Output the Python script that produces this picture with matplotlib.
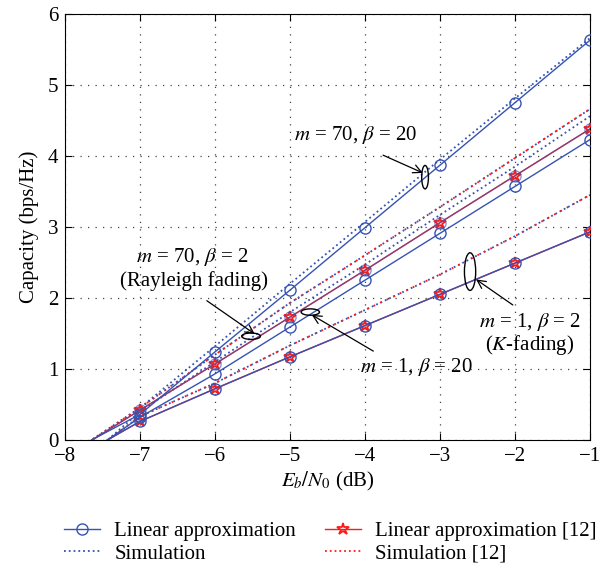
import matplotlib

matplotlib.use("Agg")
import matplotlib.pyplot as plt  # noqa: E402
from matplotlib.patches import Ellipse  # noqa: E402

plt.rcParams["font.family"] = ["Liberation Serif", "DejaVu Serif"]
plt.rcParams["mathtext.fontset"] = "stix"
plt.rcParams["font.size"] = 15

# Eb/N0 (dB); the -8 point only sets where the curves leave the bottom edge
ebn0 = [-8, -7, -6, -5, -4, -3, -2, -1]

# linear approximation (proposed)
lin_m70_b20 = [-0.20, 0.36, 1.24, 2.11, 2.99, 3.87, 4.75, 5.63]
lin_m70_b2 = [-0.24, 0.42, 1.07, 1.73, 2.39, 3.06, 3.72, 4.38]
lin_m1_b20 = [-0.42, 0.32, 0.93, 1.59, 2.25, 2.91, 3.57, 4.23]
lin_m1_b2 = [-0.34, 0.26, 0.72, 1.17, 1.61, 2.05, 2.49, 2.93]

# linear approximation of [12]
ref_m70_b2 = [-0.24, 0.42, 1.07, 1.73, 2.39, 3.06, 3.72, 4.38]
ref_m1_b2 = [-0.34, 0.26, 0.72, 1.17, 1.61, 2.05, 2.49, 2.93]

# simulation
sim_m70_b20 = [-0.25, 0.45, 1.32, 2.20, 3.07, 3.95, 4.81, 5.66]
sim_m70_b2 = [-0.25, 0.45, 1.20, 1.93, 2.60, 3.28, 3.97, 4.66]
sim_m1_b20 = [-0.53, 0.40, 1.10, 1.80, 2.47, 3.17, 3.85, 4.56]
sim_m1_b2 = [-0.44, 0.33, 0.80, 1.33, 1.83, 2.33, 2.87, 3.45]

blue = "#3553b3"
red = "#ff1a1a"

fig = plt.figure(figsize=(6.14, 5.78), dpi=100)
ax = fig.add_axes([0.106, 0.239, 0.855, 0.737])

# simulations
for vals in (sim_m70_b20, sim_m1_b20):
    ax.plot(ebn0, vals, ls=":", color=blue, lw=1.3, zorder=2)
for vals in (sim_m70_b2, sim_m1_b2):
    ax.plot(ebn0, vals, ls=":", color=blue, lw=1.3, zorder=2)
    ax.plot(ebn0, vals, ls=(1.5, (1, 3)), color=red, lw=1.3, zorder=2)

# [12] linear approximation
for vals in (ref_m70_b2, ref_m1_b2):
    ax.plot(ebn0, vals, "-", color=red, lw=1.0, marker="*", ms=9,
            mfc="none", mec=red, mew=1.3, zorder=3)

# proposed linear approximation (Rayleigh curve blends with the red one)
for vals, a in ((lin_m70_b20, 1.0), (lin_m70_b2, 0.6), (lin_m1_b20, 1.0), (lin_m1_b2, 1.0)):
    ax.plot(ebn0, vals, "-", color=blue, lw=1.0, marker="o", ms=8,
            mfc="none", mec=blue, mew=1.0, zorder=3, alpha=a)

# legend proxies
h_lin, = ax.plot([], [], "-", color=blue, lw=1.0, marker="o", ms=8, mfc="none", mec=blue)
h_sim, = ax.plot([], [], ":", color=blue, lw=1.3)
h_ref, = ax.plot([], [], "-", color=red, lw=1.0, marker="*", ms=9, mfc="none", mec=red, mew=1.3)
h_rsim, = ax.plot([], [], ":", color=red, lw=1.3)

# ellipses and labels
ell_kw = dict(fc="none", ec="black", lw=1.0, zorder=5)
arr_kw = dict(arrowstyle="->", color="black", lw=0.9, shrinkA=0, shrinkB=0)

ax.add_patch(Ellipse((-3.20, 3.70), 0.09, 0.33, **ell_kw))
ax.text(-4.13, 4.30, r"$m$ = 70, $\beta$ = 20", ha="center", va="center")
ax.annotate("", xy=(-3.23, 3.76), xytext=(-3.76, 4.01), arrowprops=arr_kw)

ax.add_patch(Ellipse((-5.52, 1.46), 0.25, 0.09, **ell_kw))
ax.text(-6.31, 2.58, r"$m$ = 70, $\beta$ = 2", ha="center", va="center")
ax.text(-6.28, 2.24, "(Rayleigh fading)", ha="center", va="center")
ax.annotate("", xy=(-5.47, 1.49), xytext=(-6.11, 1.96), arrowprops=arr_kw)

ax.add_patch(Ellipse((-4.73, 1.80), 0.245, 0.09, **ell_kw))
ax.text(-3.32, 1.02, r"$m$ = 1, $\beta$ = 20", ha="center", va="center")
ax.annotate("", xy=(-4.71, 1.76), xytext=(-3.89, 1.25), arrowprops=arr_kw)

ax.add_patch(Ellipse((-2.60, 2.37), 0.15, 0.53, **ell_kw))
ax.text(-1.8, 1.66, r"$m$ = 1, $\beta$ = 2", ha="center", va="center")
ax.text(-1.8, 1.34, r"($K$-fading)", ha="center", va="center")
ax.annotate("", xy=(-2.52, 2.26), xytext=(-2.03, 1.90), arrowprops=arr_kw)

ax.set_xlim(-8, -1)
ax.set_ylim(0, 6)
ax.set_xticks(range(-8, 0))
ax.set_yticks(range(0, 7))
ax.tick_params(direction="in", length=5, labelsize=15, top=True, right=True,
               labeltop=False, labelright=False, pad=5)
ax.grid(True, ls=(0, (1, 5)), color="#444444", lw=0.9)
for spine in ax.spines.values():
    spine.set_linewidth(0.8)
ax.set_xlabel(r"$E_b/N_0$ (dB)", labelpad=3)
ax.set_ylabel("Capacity (bps/Hz)", labelpad=6)

fig.legend([h_lin, h_sim, h_ref, h_rsim],
           ["Linear approximation", "Simulation",
            "Linear approximation [12]", "Simulation [12]"],
           ncol=2, frameon=False, loc="upper left",
           bbox_to_anchor=(0.105, 0.098), borderpad=0, borderaxespad=0,
           handlelength=1.7, handletextpad=0.7, columnspacing=1.4,
           labelspacing=0.15)

fig.savefig("out.png", dpi=100)
